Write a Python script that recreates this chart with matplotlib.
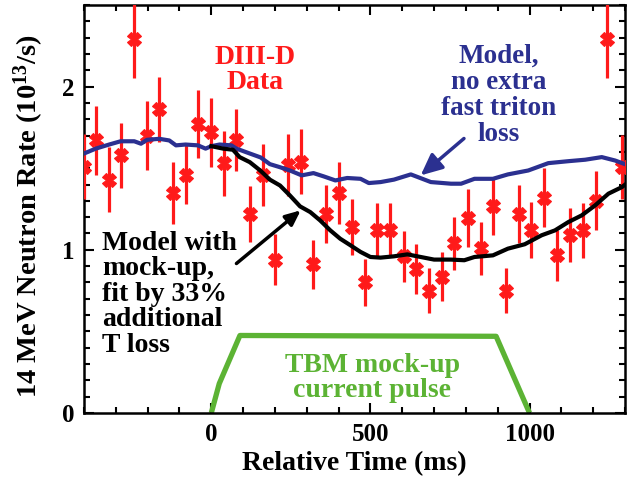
import matplotlib
matplotlib.use("Agg")
import matplotlib.pyplot as plt
from matplotlib.ticker import MultipleLocator

plt.rcParams['font.family'] = ['Liberation Serif', 'DejaVu Serif']
plt.rcParams['font.weight'] = 'bold'
plt.rcParams['mathtext.fontset'] = 'custom'
plt.rcParams['mathtext.rm'] = 'Liberation Serif:bold'
plt.rcParams['mathtext.it'] = 'Liberation Serif:bold'
plt.rcParams['mathtext.bf'] = 'Liberation Serif:bold'

# DIII-D measured neutron rate (time ms, rate 1e13/s, error)
data_t = [-400, -363, -321, -285, -242, -202, -163, -121, -81, -42, 0, 39, 79, 121, 161,
          200, 242, 281, 321, 361, 402, 442, 482, 521, 563, 604, 643, 685, 725,
          764, 806, 846, 885, 927, 966, 1006, 1046, 1087, 1127, 1169, 1208, 1243, 1290]
data_y = [1.51, 1.67, 1.43, 1.58, 2.29, 1.70, 1.86, 1.35, 1.46, 1.77, 1.72, 1.53, 1.67, 1.22, 1.46,
          0.94, 1.52, 1.54, 0.91, 1.22, 1.35, 1.14, 0.80, 1.12, 1.12, 0.96, 0.885, 0.75, 0.835,
          1.04, 1.195, 1.01, 1.27, 0.75, 1.22, 1.12, 1.32, 0.966, 1.09, 1.12, 1.30, 2.29, 1.51]
data_err = [0.20, 0.21, 0.20, 0.20, 0.24, 0.21, 0.20, 0.19, 0.18, 0.21, 0.21, 0.20, 0.19, 0.17, 0.19,
            0.155, 0.19, 0.20, 0.15, 0.18, 0.19, 0.17, 0.145, 0.165, 0.165, 0.155, 0.153, 0.14, 0.15,
            0.163, 0.176, 0.162, 0.178, 0.139, 0.179, 0.17, 0.183, 0.158, 0.166, 0.168, 0.18, 0.24, 0.196]

# Model, no extra fast triton loss
model_t = [-400, -363, -321, -285, -242, -221, -202, -163, -132, -111, -81, -42, -18, 0, 26, 63, 79,
           121, 155, 184, 216, 247, 284, 321, 353, 390, 427, 469, 495, 532, 574, 627, 690, 722,
           753, 785, 827, 885, 932, 996, 1059, 1122, 1175, 1227, 1269, 1311]
model_y = [1.59, 1.62, 1.645, 1.665, 1.665, 1.65, 1.674, 1.68, 1.67, 1.64, 1.645, 1.64, 1.62, 1.635,
           1.645, 1.64, 1.62, 1.59, 1.566, 1.525, 1.506, 1.486, 1.456, 1.47, 1.45, 1.425, 1.44, 1.435,
           1.409, 1.415, 1.43, 1.462, 1.415, 1.41, 1.405, 1.405, 1.435, 1.435, 1.462, 1.486, 1.531,
           1.543, 1.552, 1.568, 1.547, 1.517]

# Model with mock-up, 33% additional T loss
mock_t = [0, 37, 68, 89, 121, 155, 184, 216, 247, 279, 311, 342, 374, 405, 437, 469, 500, 532,
          574, 616, 658, 700, 753, 795, 827, 885, 932, 985, 1038, 1080, 1122, 1164, 1206, 1248,
          1290, 1311]
mock_y = [1.635, 1.62, 1.613, 1.568, 1.537, 1.484, 1.43, 1.394, 1.333, 1.266, 1.231, 1.18, 1.119,
          1.068, 1.028, 0.987, 0.956, 0.952, 0.96, 0.972, 0.956, 0.94, 0.94, 0.936, 0.956, 0.966,
          1.007, 1.034, 1.089, 1.119, 1.17, 1.211, 1.272, 1.344, 1.384, 1.415]

# TBM mock-up current pulse (scaled)
pulse_t = [0, 25, 90, 895, 1000]
pulse_y = [0, 0.18, 0.475, 0.47, 0]

RED = '#ff1a1a'
BLUE = '#2b3090'
GREEN = '#5cb334'

fig = plt.figure(figsize=(6.29, 4.83), dpi=100)
ax = fig.add_axes([84/629, 1-413/483, (625-84)/629, (413-5)/483])

ax.plot(pulse_t, pulse_y, color=GREEN, lw=3.8, solid_capstyle='butt', zorder=2)
ax.errorbar(data_t, data_y, yerr=data_err, fmt='none', ecolor=RED, elinewidth=2.3, capsize=0, zorder=3)
ax.plot(data_t, data_y, ls='none', marker='X', ms=10, color=RED, mec=RED, mew=0.8, zorder=4)
ax.plot(model_t, model_y, color=BLUE, lw=3.0, zorder=5)
ax.plot(mock_t, mock_y, color='black', lw=3.0, zorder=5)

ax.set_xlim(-400, 1300)
ax.set_ylim(0, 2.5)
ax.set_xticks([0, 500, 1000])
ax.set_yticks([0, 1, 2])
ax.xaxis.set_minor_locator(MultipleLocator(100))
ax.yaxis.set_minor_locator(MultipleLocator(0.1))
ax.tick_params(which='both', direction='in', top=True, right=True, width=1.5, labelsize=18)
ax.tick_params(which='major', length=7.5, pad=7)
ax.tick_params(which='minor', length=4.5)
for s in ax.spines.values():
    s.set_linewidth(1.8)

ax.set_xlabel('Relative Time (ms)', fontsize=20, fontweight='bold', labelpad=4)
ax.set_ylabel('14 MeV Neutron Rate (10$^{13}$/s)', fontsize=20.5, fontweight='bold')
ax.yaxis.set_label_coords(-0.071, 0.483)

ax.text(137, 2.10, 'DIII-D\nData', color=RED, fontsize=20, fontweight='bold',
        ha='center', va='center', linespacing=0.98)
ax.text(902, 1.945, 'Model,\nno extra\nfast triton\nloss', color=BLUE, fontsize=19.5,
        fontweight='bold', ha='center', va='center', linespacing=1.05)
ax.text(-344, 0.728, 'Model with\nmock-up,\nfit by 33%\nadditional\nT loss', color='black',
        fontsize=20, fontweight='bold', ha='left', va='center', linespacing=1.03)
ax.text(506, 0.215, 'TBM mock-up\ncurrent pulse', color=GREEN, fontsize=20,
        fontweight='bold', ha='center', va='center', linespacing=1.0)

ax.annotate('', xy=(658, 1.456), xytext=(794, 1.682),
            arrowprops=dict(arrowstyle='-|>,head_length=1.3,head_width=0.6', color=BLUE, lw=2.5,
                            shrinkA=0, shrinkB=0))
ax.annotate('', xy=(281, 1.242), xytext=(79, 0.916),
            arrowprops=dict(arrowstyle='-|>,head_length=0.9,head_width=0.4', color='black', lw=2.5,
                            shrinkA=0, shrinkB=0))

fig.savefig('out.png', dpi=100)
